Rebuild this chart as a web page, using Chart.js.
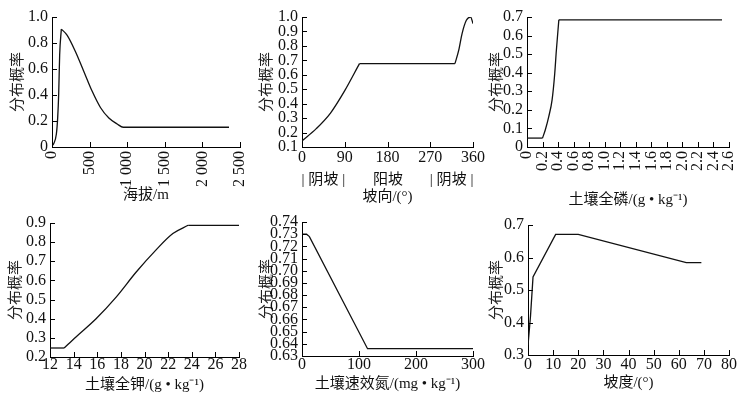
<!DOCTYPE html>
<html lang="zh">
<head>
<meta charset="utf-8">
<title>分布概率</title>
<script src="https://cdn.jsdelivr.net/npm/chart.js@4.4.1/dist/chart.umd.min.js"></script>
<style>
  html, body { margin: 0; padding: 0; background: #fff; }
  #wrap { position: relative; width: 748px; height: 397px; }
  #wrap canvas { position: absolute; left: 0; top: 0; }
</style>
</head>
<body>
<div id="wrap">
  <canvas id="c1" width="748" height="397"></canvas>
  <canvas id="c2" width="748" height="397"></canvas>
  <canvas id="c3" width="748" height="397"></canvas>
  <canvas id="c4" width="748" height="397"></canvas>
  <canvas id="c5" width="748" height="397"></canvas>
  <canvas id="c6" width="748" height="397"></canvas>
</div>
<script>
// 海拔
const altX = [0, 22, 58, 76, 89, 102, 124, 200, 311, 422, 533, 644, 756, 867, 947, 2354];
const altY = [0.01, 0.025, 0.10, 0.23, 0.41, 0.71, 0.907, 0.861, 0.735, 0.583, 0.43, 0.304, 0.223, 0.177, 0.152, 0.152];
const altTicks = [0, 500, 1000, 1500, 2000, 2500];
const altYTicks = [0, 0.2, 0.4, 0.6, 0.8, 1.0];

// 坡向
const aspX = [0, 30, 60, 90, 121, 322, 330, 337, 346, 355, 360];
const aspY = [0.142, 0.227, 0.335, 0.49, 0.677, 0.677, 0.77, 0.885, 0.977, 1.0, 0.954];
const aspTicks = [0, 90, 180, 270, 360];
const aspYTicks = [0.1, 0.2, 0.3, 0.4, 0.5, 0.6, 0.7, 0.8, 0.9, 1.0];
const aspZones = ['| 阴坡 |', '阳坡', '| 阴坡 |'];
const aspZoneAt = [45, 181, 315];

// 土壤全磷
const phX = [0, 0.2, 0.236, 0.28, 0.323, 0.357, 0.378, 0.41, 2.51];
const phY = [0.048, 0.048, 0.093, 0.164, 0.254, 0.396, 0.521, 0.685, 0.685];
const phTicks = [0, 0.2, 0.4, 0.6, 0.8, 1.0, 1.2, 1.4, 1.6, 1.8, 2.0, 2.2, 2.4, 2.6];
const phYTicks = [0, 0.1, 0.2, 0.3, 0.4, 0.5, 0.6, 0.7];

// 土壤全钾
const kX = [12, 13.2, 14.2, 15.9, 17.6, 19.3, 21.0, 22.4, 23.7, 28];
const kY = [0.247, 0.247, 0.305, 0.4, 0.513, 0.644, 0.761, 0.845, 0.888, 0.888];
const kTicks = [12, 14, 16, 18, 20, 22, 24, 26, 28];
const kYTicks = [0.2, 0.3, 0.4, 0.5, 0.6, 0.7, 0.8, 0.9];

// 土壤速效氮
const nX = [0, 8, 13, 115, 300];
const nY = [0.730, 0.730, 0.728, 0.636, 0.636];
const nTicks = [0, 100, 200, 300];
const nYTicks = [0.63, 0.64, 0.65, 0.66, 0.67, 0.68, 0.69, 0.70, 0.71, 0.72, 0.73, 0.74];

// 坡度
const slX = [0, 1, 2, 11, 20, 63, 69];
const slY = [0.33, 0.42, 0.54, 0.671, 0.671, 0.584, 0.584];
const slTicks = [0, 10, 20, 30, 40, 50, 60, 70, 80];
const slYTicks = [0.3, 0.4, 0.5, 0.6, 0.7];

const FAM = "'Liberation Serif', 'Noto Sans CJK SC', serif";
const tickFont = { family: FAM, size: 16, lineHeight: 1 };
const titleFont = { family: FAM, size: 15, lineHeight: 1.2 };

function fmt1(v) { return v === 0 ? '0' : v.toFixed(1); }
function fmt2(v) { return v.toFixed(2); }
function fmtInt(v) { return v >= 1000 ? String(v).replace(/(\d)(\d{3})$/, '$1 $2') : String(v); }

// ticks drawn inward, off each scale's own tick pixels
const inTicks = {
  id: 'inTicks',
  afterDraw(chart) {
    const ctx = chart.ctx, a = chart.chartArea;
    ctx.save();
    ctx.strokeStyle = '#000';
    ctx.lineWidth = 1;
    ctx.beginPath();
    chart.scales.x.ticks.forEach(t => {
      const px = Math.round(chart.scales.x.getPixelForValue(t.value)) + 0.5;
      ctx.moveTo(px, a.bottom);
      ctx.lineTo(px, a.bottom - 5);
    });
    chart.scales.y.ticks.forEach(t => {
      const py = Math.round(chart.scales.y.getPixelForValue(t.value)) + 0.5;
      ctx.moveTo(a.left, py);
      ctx.lineTo(a.left + 5, py);
    });
    ctx.stroke();
    ctx.restore();
  }
};

const zoneLabels = {
  id: 'zoneLabels',
  afterDraw(chart) {
    if (!chart.options.zones) return;
    const ctx = chart.ctx, sx = chart.scales.x;
    ctx.save();
    ctx.font = "15px " + FAM;
    ctx.fillStyle = '#111';
    ctx.textAlign = 'center';
    ctx.textBaseline = 'middle';
    aspZones.forEach((t, i) => {
      ctx.fillText(t, sx.getPixelForValue(aspZoneAt[i]), chart.chartArea.bottom + 33);
    });
    ctx.restore();
  }
};

// split a curve at its sharp corners so each piece is smoothed on its own
function pieces(xs, ys, breaks, smooth) {
  const cuts = [0].concat(breaks || [], [xs.length - 1]);
  const out = [];
  for (let k = 0; k < cuts.length - 1; k++) {
    const pts = [];
    for (let i = cuts[k]; i <= cuts[k + 1]; i++) pts.push({ x: xs[i], y: ys[i] });
    out.push({
      data: pts,
      borderColor: '#111',
      borderWidth: 1.3,
      pointRadius: 0,
      fill: false,
      tension: 0,
      cubicInterpolationMode: smooth ? 'monotone' : 'default'
    });
  }
  return out;
}

function makeChart(id, p) {
  const pad = { left: p.x0 - p.yw, top: p.y0, right: 748 - p.x1, bottom: 397 - p.y1 - p.xh };
  return new Chart(document.getElementById(id), {
    type: 'line',
    data: { datasets: pieces(p.xs, p.ys, p.breaks, p.smooth) },
    options: {
      responsive: false,
      animation: false,
      events: [],
      zones: p.zones || false,
      layout: { padding: pad },
      plugins: { legend: { display: false }, tooltip: { enabled: false } },
      scales: {
        x: {
          type: 'linear',
          min: p.xt[0], max: p.xt[p.xt.length - 1],
          afterBuildTicks(s) { s.ticks = p.xt.map(v => ({ value: v })); },
          afterFit(s) { s.height = p.xh; s.paddingLeft = 0; s.paddingRight = 0; },
          grid: { display: false, drawTicks: false },
          border: { display: true, color: '#000', width: 1 },
          ticks: {
            autoSkip: false, padding: p.tp, color: '#111', font: tickFont,
            minRotation: p.rot || 0, maxRotation: p.rot || 0,
            callback: v => p.xf(v)
          },
          title: { display: true, text: p.xTitle, color: '#111', font: titleFont, padding: 0 }
        },
        y: {
          min: p.yt[0], max: p.yt[p.yt.length - 1],
          afterBuildTicks(s) { s.ticks = p.yt.map(v => ({ value: v })); },
          afterFit(s) { s.width = p.yw; s.paddingTop = 0; s.paddingBottom = 0; },
          grid: { display: false, drawTicks: false },
          border: { display: true, color: '#000', width: 1 },
          ticks: { autoSkip: false, padding: 4, color: '#111', font: tickFont, callback: v => p.yf(v) },
          title: { display: true, text: '分布概率', color: '#222', font: titleFont, padding: 0 }
        }
      }
    },
    plugins: [inTicks, zoneLabels]
  });
}

makeChart('c1', { xs: altX, ys: altY, breaks: [6], xt: altTicks, yt: altYTicks, xf: fmtInt, yf: fmt1, rot: 90, smooth: true, tp: 4,
  xTitle: '海拔/m', x0: 52, x1: 240, y0: 17, y1: 147, yw: 43, xh: 57 });
makeChart('c2', { xs: aspX, ys: aspY, breaks: [4, 5], xt: aspTicks, yt: aspYTicks, xf: fmtInt, yf: fmt1, smooth: true, zones: true, tp: 3,
  xTitle: '坡向/(°)', x0: 302, x1: 473, y0: 17, y1: 147, yw: 44, xh: 59 });
makeChart('c3', { xs: phX, ys: phY, breaks: [1, 7], xt: phTicks, yt: phYTicks, xf: fmt1, yf: fmt1, rot: 90, smooth: true, tp: 4,
  xTitle: '土壤全磷/(g • kg⁻¹)', x0: 527, x1: 729, y0: 17, y1: 147, yw: 39, xh: 62 });
makeChart('c4', { xs: kX, ys: kY, breaks: [1, 8], xt: kTicks, yt: kYTicks, xf: fmtInt, yf: fmt1, smooth: true, tp: 0,
  xTitle: '土壤全钾/(g • kg⁻¹)', x0: 50, x1: 239, y0: 223, y1: 357, yw: 43, xh: 37 });
makeChart('c5', { xs: nX, ys: nY, xt: nTicks, yt: nYTicks, xf: fmtInt, yf: fmt2, smooth: false, tp: 1,
  xTitle: '土壤速效氮/(mg • kg⁻¹)', x0: 302, x1: 473, y0: 222, y1: 356, yw: 44, xh: 37 });
makeChart('c6', { xs: slX, ys: slY, xt: slTicks, yt: slYTicks, xf: fmtInt, yf: fmt1, smooth: false, tp: 2,
  xTitle: '坡度/(°)', x0: 528, x1: 729, y0: 225, y1: 355, yw: 40, xh: 37 });
</script>
</body>
</html>
